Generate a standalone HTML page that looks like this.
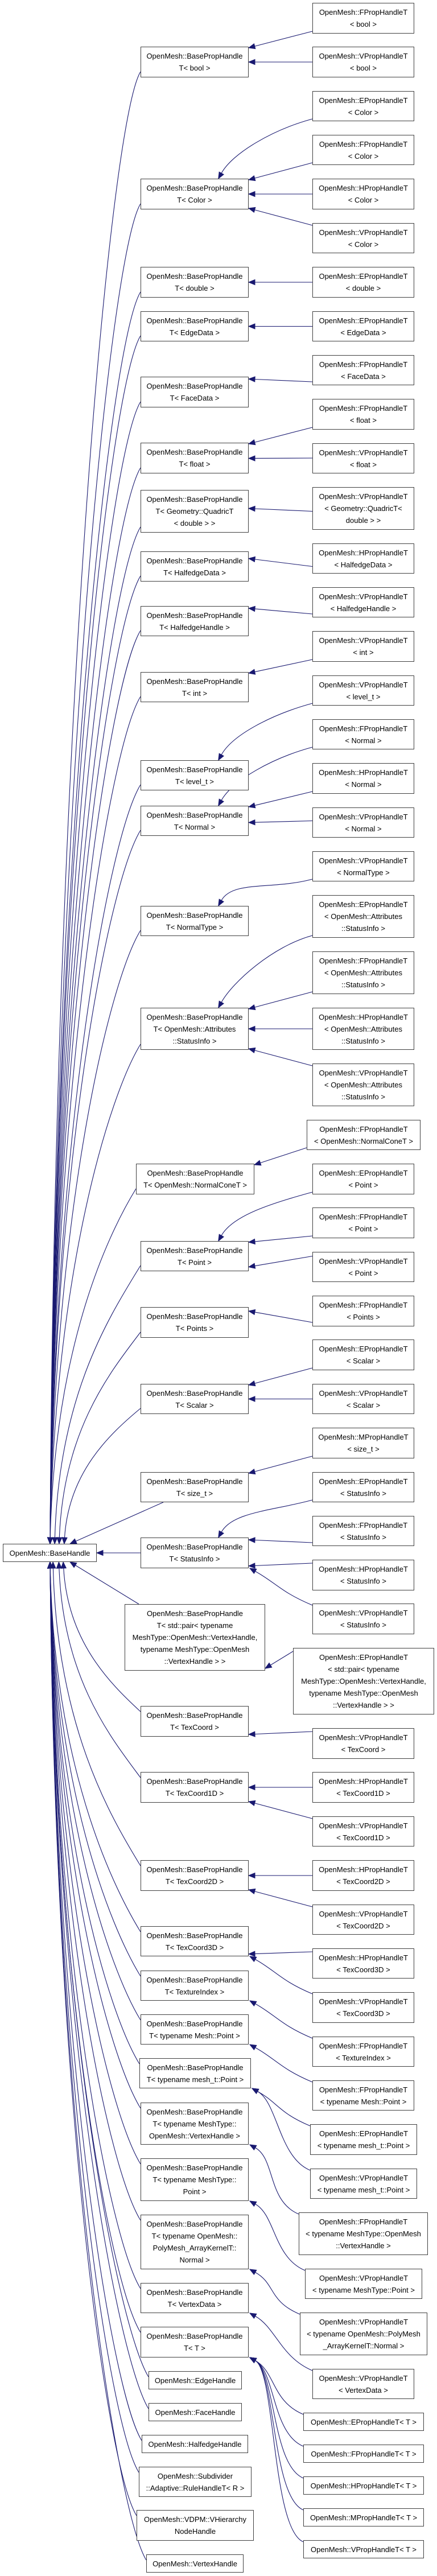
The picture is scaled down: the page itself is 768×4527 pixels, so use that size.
<!DOCTYPE html>
<html><head><meta charset="utf-8">
<style>
html,body{margin:0;padding:0;background:#fff;}
body{width:768px;height:4527px;position:relative;overflow:hidden;font-family:"Liberation Sans",Arial,sans-serif;}
.n{position:absolute;box-sizing:border-box;border:1px solid #404040;background:#fff;display:flex;flex-direction:column;justify-content:center;align-items:center;font-size:13px;line-height:21px;color:#000;white-space:nowrap;text-align:center;z-index:2;}
.m{left:247px;width:190px;}
.r{left:549px;width:179px;}
svg{position:absolute;left:0;top:0;z-index:1;}
</style></head><body>
<svg id="sv" width="768" height="4527" viewBox="0 0 768 4527"></svg>

<div class="n" id="r0" style="left:5px;top:2713px;width:165px;height:32px">OpenMesh::BaseHandle</div>

<div class="n m" id="m1" style="top:82px;height:54px"><div>OpenMesh::BasePropHandle</div><div>T&lt; bool &gt;</div></div>
<div class="n m" id="m2" style="top:314px;height:54px"><div>OpenMesh::BasePropHandle</div><div>T&lt; Color &gt;</div></div>
<div class="n m" id="m3" style="top:469px;height:54px"><div>OpenMesh::BasePropHandle</div><div>T&lt; double &gt;</div></div>
<div class="n m" id="m4" style="top:547px;height:53px"><div>OpenMesh::BasePropHandle</div><div>T&lt; EdgeData &gt;</div></div>
<div class="n m" id="m5" style="top:662px;height:54px"><div>OpenMesh::BasePropHandle</div><div>T&lt; FaceData &gt;</div></div>
<div class="n m" id="m6" style="top:778px;height:54px"><div>OpenMesh::BasePropHandle</div><div>T&lt; float &gt;</div></div>
<div class="n m" id="m7" style="top:861px;height:75px"><div>OpenMesh::BasePropHandle</div><div>T&lt; Geometry::QuadricT</div><div>&lt; double &gt; &gt;</div></div>
<div class="n m" id="m8" style="top:969px;height:53px"><div>OpenMesh::BasePropHandle</div><div>T&lt; HalfedgeData &gt;</div></div>
<div class="n m" id="m9" style="top:1065px;height:53px"><div>OpenMesh::BasePropHandle</div><div>T&lt; HalfedgeHandle &gt;</div></div>
<div class="n m" id="m10" style="top:1181px;height:53px"><div>OpenMesh::BasePropHandle</div><div>T&lt; int &gt;</div></div>
<div class="n m" id="m11" style="top:1336px;height:53px"><div>OpenMesh::BasePropHandle</div><div>T&lt; level_t &gt;</div></div>
<div class="n m" id="m12" style="top:1416px;height:53px"><div>OpenMesh::BasePropHandle</div><div>T&lt; Normal &gt;</div></div>
<div class="n m" id="m13" style="top:1592px;height:53px"><div>OpenMesh::BasePropHandle</div><div>T&lt; NormalType &gt;</div></div>
<div class="n m" id="m14" style="top:1771px;height:74px"><div>OpenMesh::BasePropHandle</div><div>T&lt; OpenMesh::Attributes</div><div>::StatusInfo &gt;</div></div>
<div class="n" id="m15" style="left:239px;width:208px;top:2045px;height:54px"><div>OpenMesh::BasePropHandle</div><div>T&lt; OpenMesh::NormalConeT &gt;</div></div>
<div class="n m" id="m16" style="top:2181px;height:53px"><div>OpenMesh::BasePropHandle</div><div>T&lt; Point &gt;</div></div>
<div class="n m" id="m17" style="top:2297px;height:54px"><div>OpenMesh::BasePropHandle</div><div>T&lt; Points &gt;</div></div>
<div class="n m" id="m18" style="top:2432px;height:53px"><div>OpenMesh::BasePropHandle</div><div>T&lt; Scalar &gt;</div></div>
<div class="n m" id="m19" style="top:2587px;height:53px"><div>OpenMesh::BasePropHandle</div><div>T&lt; size_t &gt;</div></div>
<div class="n m" id="m20" style="top:2702px;height:54px"><div>OpenMesh::BasePropHandle</div><div>T&lt; StatusInfo &gt;</div></div>
<div class="n" id="m21" style="left:219px;width:247px;top:2819px;height:117px"><div>OpenMesh::BasePropHandle</div><div>T&lt; std::pair&lt; typename</div><div>MeshType::OpenMesh::VertexHandle,</div><div>typename MeshType::OpenMesh</div><div>::VertexHandle &gt; &gt;</div></div>
<div class="n m" id="m22" style="top:2998px;height:54px"><div>OpenMesh::BasePropHandle</div><div>T&lt; TexCoord &gt;</div></div>
<div class="n m" id="m23" style="top:3114px;height:54px"><div>OpenMesh::BasePropHandle</div><div>T&lt; TexCoord1D &gt;</div></div>
<div class="n m" id="m24" style="top:3269px;height:54px"><div>OpenMesh::BasePropHandle</div><div>T&lt; TexCoord2D &gt;</div></div>
<div class="n m" id="m25" style="top:3385px;height:53px"><div>OpenMesh::BasePropHandle</div><div>T&lt; TexCoord3D &gt;</div></div>
<div class="n m" id="m26" style="top:3463px;height:53px"><div>OpenMesh::BasePropHandle</div><div>T&lt; TextureIndex &gt;</div></div>
<div class="n m" id="m27" style="top:3540px;height:53px"><div>OpenMesh::BasePropHandle</div><div>T&lt; typename Mesh::Point &gt;</div></div>
<div class="n" id="m28" style="left:245px;width:196px;top:3617px;height:53px"><div>OpenMesh::BasePropHandle</div><div>T&lt; typename mesh_t::Point &gt;</div></div>
<div class="n m" id="m29" style="top:3695px;height:74px"><div>OpenMesh::BasePropHandle</div><div>T&lt; typename MeshType::</div><div>OpenMesh::VertexHandle &gt;</div></div>
<div class="n m" id="m30" style="top:3793px;height:75px"><div>OpenMesh::BasePropHandle</div><div>T&lt; typename MeshType::</div><div>Point &gt;</div></div>
<div class="n m" id="m31" style="top:3892px;height:96px"><div>OpenMesh::BasePropHandle</div><div>T&lt; typename OpenMesh::</div><div>PolyMesh_ArrayKernelT::</div><div>Normal &gt;</div></div>
<div class="n m" id="m32" style="top:4012px;height:53px"><div>OpenMesh::BasePropHandle</div><div>T&lt; VertexData &gt;</div></div>
<div class="n m" id="m33" style="top:4089px;height:54px"><div>OpenMesh::BasePropHandle</div><div>T&lt; T &gt;</div></div>
<div class="n" id="d1" style="left:261px;width:164px;top:4167px;height:32px">OpenMesh::EdgeHandle</div>
<div class="n" id="d2" style="left:261px;width:164px;top:4223px;height:32px">OpenMesh::FaceHandle</div>
<div class="n" id="d3" style="left:249px;width:187px;top:4279px;height:32px">OpenMesh::HalfedgeHandle</div>
<div class="n" id="d4" style="left:244px;width:198px;top:4335px;height:53px"><div>OpenMesh::Subdivider</div><div>::Adaptive::RuleHandleT&lt; R &gt;</div></div>
<div class="n" id="d5" style="left:240px;width:206px;top:4411px;height:54px"><div>OpenMesh::VDPM::VHierarchy</div><div>NodeHandle</div></div>
<div class="n" id="d6" style="left:257px;width:171px;top:4489px;height:32px">OpenMesh::VertexHandle</div>

<div class="n r" id="r1" style="top:5px;height:54px"><div>OpenMesh::FPropHandleT</div><div>&lt; bool &gt;</div></div>
<div class="n r" id="r2" style="top:82px;height:54px"><div>OpenMesh::VPropHandleT</div><div>&lt; bool &gt;</div></div>
<div class="n r" id="r3" style="top:160px;height:53px"><div>OpenMesh::EPropHandleT</div><div>&lt; Color &gt;</div></div>
<div class="n r" id="r4" style="top:237px;height:53px"><div>OpenMesh::FPropHandleT</div><div>&lt; Color &gt;</div></div>
<div class="n r" id="r5" style="top:314px;height:54px"><div>OpenMesh::HPropHandleT</div><div>&lt; Color &gt;</div></div>
<div class="n r" id="r6" style="top:392px;height:53px"><div>OpenMesh::VPropHandleT</div><div>&lt; Color &gt;</div></div>
<div class="n r" id="r7" style="top:469px;height:54px"><div>OpenMesh::EPropHandleT</div><div>&lt; double &gt;</div></div>
<div class="n r" id="r8" style="top:547px;height:53px"><div>OpenMesh::EPropHandleT</div><div>&lt; EdgeData &gt;</div></div>
<div class="n r" id="r9" style="top:624px;height:53px"><div>OpenMesh::FPropHandleT</div><div>&lt; FaceData &gt;</div></div>
<div class="n r" id="r10" style="top:701px;height:54px"><div>OpenMesh::FPropHandleT</div><div>&lt; float &gt;</div></div>
<div class="n r" id="r11" style="top:779px;height:53px"><div>OpenMesh::VPropHandleT</div><div>&lt; float &gt;</div></div>
<div class="n r" id="r12" style="top:856px;height:75px"><div>OpenMesh::VPropHandleT</div><div>&lt; Geometry::QuadricT&lt;</div><div>double &gt; &gt;</div></div>
<div class="n r" id="r13" style="top:955px;height:53px"><div>OpenMesh::HPropHandleT</div><div>&lt; HalfedgeData &gt;</div></div>
<div class="n r" id="r14" style="top:1032px;height:53px"><div>OpenMesh::VPropHandleT</div><div>&lt; HalfedgeHandle &gt;</div></div>
<div class="n r" id="r15" style="top:1109px;height:54px"><div>OpenMesh::VPropHandleT</div><div>&lt; int &gt;</div></div>
<div class="n r" id="r16" style="top:1187px;height:53px"><div>OpenMesh::VPropHandleT</div><div>&lt; level_t &gt;</div></div>
<div class="n r" id="r17" style="top:1264px;height:53px"><div>OpenMesh::FPropHandleT</div><div>&lt; Normal &gt;</div></div>
<div class="n r" id="r18" style="top:1341px;height:54px"><div>OpenMesh::HPropHandleT</div><div>&lt; Normal &gt;</div></div>
<div class="n r" id="r19" style="top:1419px;height:53px"><div>OpenMesh::VPropHandleT</div><div>&lt; Normal &gt;</div></div>
<div class="n r" id="r20" style="top:1496px;height:53px"><div>OpenMesh::VPropHandleT</div><div>&lt; NormalType &gt;</div></div>
<div class="n r" id="r21" style="top:1573px;height:75px"><div>OpenMesh::EPropHandleT</div><div>&lt; OpenMesh::Attributes</div><div>::StatusInfo &gt;</div></div>
<div class="n r" id="r22" style="top:1672px;height:75px"><div>OpenMesh::FPropHandleT</div><div>&lt; OpenMesh::Attributes</div><div>::StatusInfo &gt;</div></div>
<div class="n r" id="r23" style="top:1771px;height:74px"><div>OpenMesh::HPropHandleT</div><div>&lt; OpenMesh::Attributes</div><div>::StatusInfo &gt;</div></div>
<div class="n r" id="r24" style="top:1869px;height:75px"><div>OpenMesh::VPropHandleT</div><div>&lt; OpenMesh::Attributes</div><div>::StatusInfo &gt;</div></div>
<div class="n" id="r25" style="left:539px;width:200px;top:1968px;height:53px"><div>OpenMesh::FPropHandleT</div><div>&lt; OpenMesh::NormalConeT &gt;</div></div>
<div class="n r" id="r26" style="top:2045px;height:54px"><div>OpenMesh::EPropHandleT</div><div>&lt; Point &gt;</div></div>
<div class="n r" id="r27" style="top:2122px;height:54px"><div>OpenMesh::FPropHandleT</div><div>&lt; Point &gt;</div></div>
<div class="n r" id="r28" style="top:2200px;height:53px"><div>OpenMesh::VPropHandleT</div><div>&lt; Point &gt;</div></div>
<div class="n r" id="r29" style="top:2277px;height:54px"><div>OpenMesh::FPropHandleT</div><div>&lt; Points &gt;</div></div>
<div class="n r" id="r30" style="top:2354px;height:54px"><div>OpenMesh::EPropHandleT</div><div>&lt; Scalar &gt;</div></div>
<div class="n r" id="r31" style="top:2432px;height:53px"><div>OpenMesh::VPropHandleT</div><div>&lt; Scalar &gt;</div></div>
<div class="n r" id="r32" style="top:2509px;height:54px"><div>OpenMesh::MPropHandleT</div><div>&lt; size_t &gt;</div></div>
<div class="n r" id="r33" style="top:2587px;height:53px"><div>OpenMesh::EPropHandleT</div><div>&lt; StatusInfo &gt;</div></div>
<div class="n r" id="r34" style="top:2664px;height:53px"><div>OpenMesh::FPropHandleT</div><div>&lt; StatusInfo &gt;</div></div>
<div class="n r" id="r35" style="top:2741px;height:54px"><div>OpenMesh::HPropHandleT</div><div>&lt; StatusInfo &gt;</div></div>
<div class="n r" id="r36" style="top:2818px;height:54px"><div>OpenMesh::VPropHandleT</div><div>&lt; StatusInfo &gt;</div></div>
<div class="n" id="r37" style="left:515px;width:248px;top:2896px;height:117px"><div>OpenMesh::EPropHandleT</div><div>&lt; std::pair&lt; typename</div><div>MeshType::OpenMesh::VertexHandle,</div><div>typename MeshType::OpenMesh</div><div>::VertexHandle &gt; &gt;</div></div>
<div class="n r" id="r38" style="top:3037px;height:54px"><div>OpenMesh::VPropHandleT</div><div>&lt; TexCoord &gt;</div></div>
<div class="n r" id="r39" style="top:3114px;height:54px"><div>OpenMesh::HPropHandleT</div><div>&lt; TexCoord1D &gt;</div></div>
<div class="n r" id="r40" style="top:3192px;height:53px"><div>OpenMesh::VPropHandleT</div><div>&lt; TexCoord1D &gt;</div></div>
<div class="n r" id="r41" style="top:3269px;height:54px"><div>OpenMesh::HPropHandleT</div><div>&lt; TexCoord2D &gt;</div></div>
<div class="n r" id="r42" style="top:3347px;height:53px"><div>OpenMesh::VPropHandleT</div><div>&lt; TexCoord2D &gt;</div></div>
<div class="n r" id="r43" style="top:3424px;height:53px"><div>OpenMesh::HPropHandleT</div><div>&lt; TexCoord3D &gt;</div></div>
<div class="n r" id="r44" style="top:3501px;height:54px"><div>OpenMesh::VPropHandleT</div><div>&lt; TexCoord3D &gt;</div></div>
<div class="n r" id="r45" style="top:3579px;height:53px"><div>OpenMesh::FPropHandleT</div><div>&lt; TextureIndex &gt;</div></div>
<div class="n r" id="r46" style="top:3656px;height:53px"><div>OpenMesh::FPropHandleT</div><div>&lt; typename Mesh::Point &gt;</div></div>
<div class="n" id="r47" style="left:545px;width:188px;top:3733px;height:54px"><div>OpenMesh::EPropHandleT</div><div>&lt; typename mesh_t::Point &gt;</div></div>
<div class="n" id="r48" style="left:545px;width:188px;top:3811px;height:53px"><div>OpenMesh::VPropHandleT</div><div>&lt; typename mesh_t::Point &gt;</div></div>
<div class="n" id="r49" style="left:525px;width:227px;top:3888px;height:75px"><div>OpenMesh::FPropHandleT</div><div>&lt; typename MeshType::OpenMesh</div><div>::VertexHandle &gt;</div></div>
<div class="n" id="r50" style="left:536px;width:206px;top:3987px;height:53px"><div>OpenMesh::VPropHandleT</div><div>&lt; typename MeshType::Point &gt;</div></div>
<div class="n" id="r51" style="left:527px;width:224px;top:4064px;height:75px"><div>OpenMesh::VPropHandleT</div><div>&lt; typename OpenMesh::PolyMesh</div><div>_ArrayKernelT::Normal &gt;</div></div>
<div class="n r" id="r52" style="top:4163px;height:53px"><div>OpenMesh::VPropHandleT</div><div>&lt; VertexData &gt;</div></div>
<div class="n" id="r53" style="left:533px;width:212px;top:4240px;height:32px">OpenMesh::EPropHandleT&lt; T &gt;</div>
<div class="n" id="r54" style="left:533px;width:212px;top:4296px;height:32px">OpenMesh::FPropHandleT&lt; T &gt;</div>
<div class="n" id="r55" style="left:533px;width:212px;top:4352px;height:32px">OpenMesh::HPropHandleT&lt; T &gt;</div>
<div class="n" id="r56" style="left:533px;width:212px;top:4408px;height:32px">OpenMesh::MPropHandleT&lt; T &gt;</div>
<div class="n" id="r57" style="left:533px;width:212px;top:4464px;height:32px">OpenMesh::VPropHandleT&lt; T &gt;</div>

<script>
(function(){
var C='#191970',sv=document.getElementById('sv'),out='';
function R(id){var e=document.getElementById(id);return {x:e.offsetLeft,y:e.offsetTop,w:e.offsetWidth,h:e.offsetHeight,r:e.offsetLeft+e.offsetWidth,b:e.offsetTop+e.offsetHeight,cy:e.offsetTop+e.offsetHeight/2};}
function cl(v,a,b){return Math.max(a,Math.min(b,v));}
function arrow(px,py,ex,ey){var dx=ex-px,dy=ey-py,l=Math.sqrt(dx*dx+dy*dy)||1;dx/=l;dy/=l;var L=11,W=4.5,bx=ex-dx*L,by=ey-dy*L;
 out+='<polygon points="'+ex+','+ey+' '+(bx-dy*W)+','+(by+dx*W)+' '+(bx+dy*W)+','+(by-dx*W)+'" fill="'+C+'" stroke="'+C+'"/>';
 return [bx,by];}
function line(sx,sy,ex,ey){var b=arrow(sx,sy,ex,ey);out+='<path d="M'+sx+','+sy+' L'+b[0]+','+b[1]+'" fill="none" stroke="'+C+'" stroke-width="1.1"/>';}
function curve(sx,sy,c1x,c1y,c2x,c2y,ex,ey){var b=arrow(c2x,c2y,ex,ey);out+='<path d="M'+sx+','+sy+' C'+c1x+','+c1y+' '+c2x+','+c2y+' '+b[0]+','+b[1]+'" fill="none" stroke="'+C+'" stroke-width="1.1"/>';}
var map={m1:[1,2],m2:[3,4,5,6],m3:[7],m4:[8],m5:[9],m6:[10,11],m7:[12],m8:[13],m9:[14],m10:[15],m11:[16],m12:[17,18,19],m13:[20],m14:[21,22,23,24],m15:[25],m16:[26,27,28],m17:[29],m18:[30,31],m19:[32],m20:[33,34,35,36],m21:[37],m22:[38],m23:[39,40],m24:[41,42],m25:[43,44],m26:[45],m27:[46],m28:[47,48],m29:[49],m30:[50],m31:[51],m32:[52],m33:[53,54,55,56,57]};
for(var k in map){var m=R(k);map[k].forEach(function(i){var c=R('r'+i);
 if(c.b>m.y+4&&c.y<m.b-4){line(c.x,cl(m.cy,c.y+6,c.b-6),m.r,cl(c.cy,m.y+4,m.b-4));}
 else if(c.b<=m.y+4){var g=m.y-c.b;
  if(g>40){var ex=m.x+m.w*0.72,ey=m.y;curve(c.x,c.b-4,c.x-70,c.b+15,ex+25,ey-45,ex,ey);}
  else line(c.x,c.b-4,m.r,m.y+2);}
 else {var g=c.y-m.b;
  if(g>40){var ex=m.r+2,ey=m.b;curve(c.x,c.y+3,c.x-55,c.y-20,ex+45,ey+25,ex,ey);}
  else line(c.x,c.y+4,m.r,m.b-2);}
});}
var r=R('r0');
var ids=[];for(var i=1;i<=33;i++)ids.push('m'+i);ids=ids.concat(['d1','d2','d3','d4','d5','d6']);
ids.forEach(function(id){var m=R(id);
 if(id==='m20'){line(m.x,r.cy,r.r,r.cy);return;}
 if(m.b<r.y){var d=r.y-m.b,ex=88+40*Math.max(0,1-d/600),ey=r.y,sx=m.x,sy=m.b-10;
  if(d<120){line(m.x+40,m.b,ex,ey);return;}
  curve(sx,sy,sx-55,sy+Math.min(90,d*0.2),ex+8,ey-d*0.55,ex,ey);}
 else {var d=m.y-r.b,ex=88+40*Math.max(0,1-d/600),ey=r.b,sx=m.x,sy=m.y+10;
  if(d<120){line(m.x+25,m.y,ex,ey);return;}
  curve(sx,sy,sx-55,sy-Math.min(90,d*0.2),ex+8,ey+d*0.55,ex,ey);}
});
sv.innerHTML=out;
})();
</script>
</body></html>
